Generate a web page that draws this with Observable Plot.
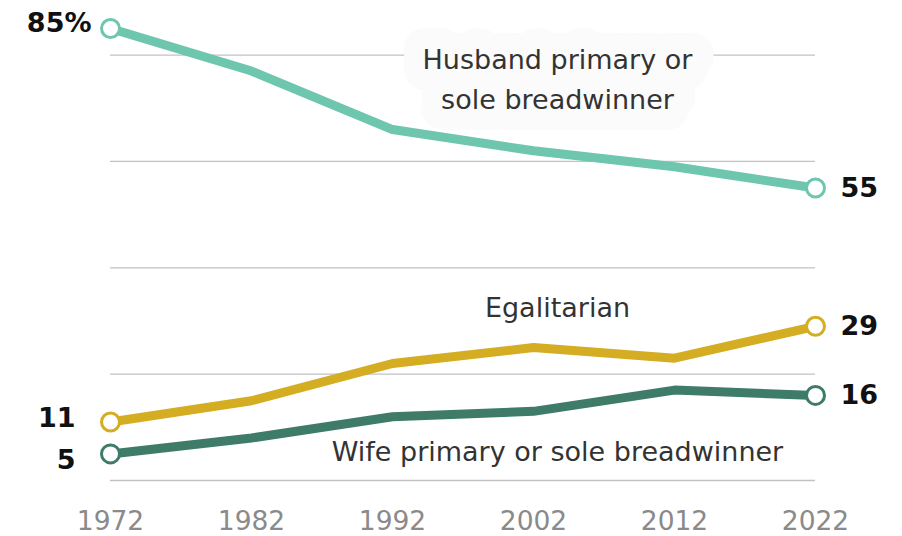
<!DOCTYPE html>
<html>
<head>
<meta charset="utf-8">
<script src="https://cdn.jsdelivr.net/npm/d3@7"></script>
<script src="https://cdn.jsdelivr.net/npm/@observablehq/plot@0.6"></script>
<style>
  body { margin: 0; background: #fff; }
  #chart svg { display: block; }
</style>
</head>
<body>
<div id="chart"></div>
<script>
// Survey years and share (%) of couples in each earning arrangement
const years = [1972, 1982, 1992, 2002, 2012, 2022];
const husband = [85, 77, 66, 62, 59, 55];
const egalitarian = [11, 15, 22, 25, 23, 29];
const wife = [5, 8, 12, 13, 17, 16];

const seriesNames = ["Husband primary or sole breadwinner", "Egalitarian", "Wife primary or sole breadwinner"];
const seriesLabels = ["Husband primary or\nsole breadwinner", "Egalitarian", "Wife primary or sole breadwinner"];
const seriesColors = ["#6fc6af", "#d4ad22", "#3e7b69"];
const gridValues = [0, 20, 40, 60, 80];

// Long-format table for the line marks
const rows = [];
[husband, egalitarian, wife].forEach((vals, i) =>
  years.forEach((year, j) => rows.push({series: seriesNames[i], year, value: vals[j]}))
);
const firstYear = years[0];
const lastYear = years[years.length - 1];
const starts = rows.filter(d => d.year === firstYear);
const ends = rows.filter(d => d.year === lastYear);
const pick = (arr, name) => arr.filter(d => d.series === name);

const font = "'DejaVu Sans', sans-serif";
const labelX = 2003.7;
const nameSize = 27;
const valueSize = 27;

const chart = Plot.plot({
  width: 902,
  height: 536,
  marginLeft: 110,
  marginRight: 87,
  marginTop: 28,
  marginBottom: 56,
  style: {fontFamily: font, background: "#fff"},
  x: {domain: [firstYear, lastYear]},
  y: {domain: [0, 85], axis: null},
  color: {domain: seriesNames, range: seriesColors},
  marks: [
    Plot.ruleY(gridValues, {x1: firstYear, x2: lastYear, stroke: "#c2c2c2", strokeWidth: 1.3}),
    // backdrop that breaks the gridline behind the top series name
    Plot.text([seriesLabels[0]], {
      x: labelX, y: 76, text: d => d, fontSize: nameSize, lineHeight: 1.48,
      fill: "#fbfbfb", stroke: "#fbfbfb", strokeWidth: 42, strokeLinejoin: "round"
    }),
    // series name labels
    Plot.text([seriesLabels[0]], {
      x: labelX, y: 76, text: d => d, fontSize: nameSize, lineHeight: 1.48, fill: "#333"
    }),
    Plot.text([seriesLabels[1]], {x: labelX, y: 32.3, text: d => d, fontSize: nameSize, fill: "#333"}),
    Plot.text([seriesLabels[2]], {x: labelX, y: 5.2, text: d => d, fontSize: nameSize, fill: "#333"}),
    Plot.line(rows, {
      x: "year", y: "value", z: "series", stroke: "series",
      strokeWidth: 9, strokeLinejoin: "round", curve: "linear"
    }),
    Plot.dot([...starts, ...ends], {
      x: "year", y: "value", stroke: "series", fill: "white", r: 9, strokeWidth: 3
    }),
    // start-value labels
    Plot.text(pick(starts, seriesNames[0]), {
      x: "year", y: "value", text: d => `${d.value}%`, textAnchor: "end",
      dx: -19, dy: -5, fontSize: valueSize, fontWeight: "bold", fill: "#111"
    }),
    Plot.text(pick(starts, seriesNames[1]), {
      x: "year", y: "value", text: d => `${d.value}`, textAnchor: "end",
      dx: -35, dy: -4, fontSize: valueSize, fontWeight: "bold", fill: "#111"
    }),
    Plot.text(pick(starts, seriesNames[2]), {
      x: "year", y: "value", text: d => `${d.value}`, textAnchor: "end",
      dx: -35, dy: 6, fontSize: valueSize, fontWeight: "bold", fill: "#111"
    }),
    // end-value labels
    Plot.text(ends, {
      x: "year", y: "value", text: d => `${d.value}`, textAnchor: "start",
      dx: 25, dy: 0, fontSize: valueSize, fontWeight: "bold", fill: "#111"
    }),
    Plot.axisX(years, {
      tickFormat: d => String(d), tickSize: 0, tickPadding: 31, label: null,
      fontSize: 26.5, fill: "#8a8a8a", stroke: null
    })
  ]
});

document.getElementById("chart").appendChild(chart);
</script>
</body>
</html>
